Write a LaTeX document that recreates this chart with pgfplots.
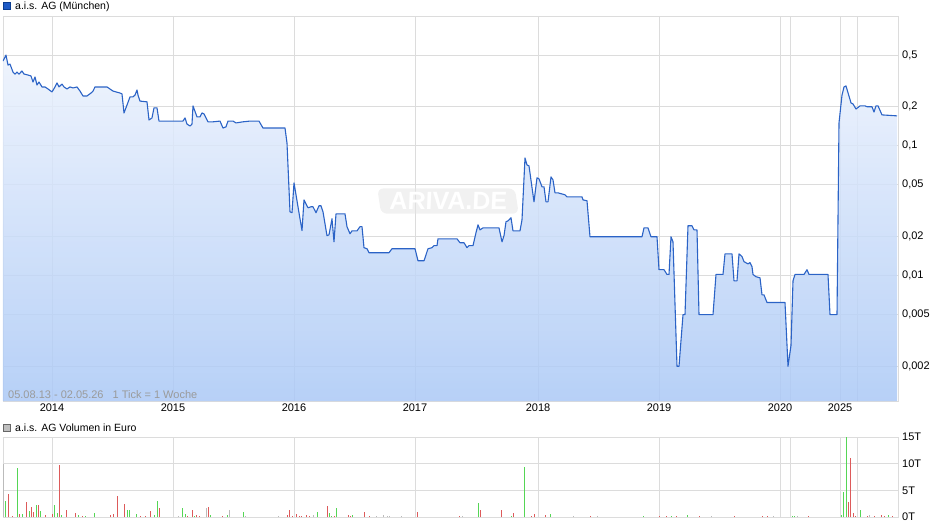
\documentclass[border=0pt]{standalone}
\usepackage{fontspec}
\setmainfont{Liberation Sans}
\usepackage{pgfplots}
\pgfplotsset{compat=1.18}
\usepackage{pgfplotstable}
\definecolor{gridc}{HTML}{DCDCDC}
\definecolor{linec}{HTML}{2B63C6}
\definecolor{filltop}{HTML}{ECF2FC}
\definecolor{fillbot}{HTML}{AAC8F6}
\definecolor{volgreen}{HTML}{55D655}
\definecolor{volred}{HTML}{DD5A5A}
\definecolor{volgrey}{HTML}{BBBBBB}
\definecolor{sqblue}{HTML}{1E5BC6}
\definecolor{sqblueb}{HTML}{0B3D91}
\definecolor{infogrey}{HTML}{9A9A9A}

\pgfplotstableread{
x y
3 0.450
6 0.500
8 0.419
10 0.426
13 0.370
15 0.357
17 0.370
19 0.357
22 0.377
24 0.357
28 0.351
31 0.345
33 0.310
35 0.339
37 0.294
39 0.310
42 0.284
45 0.284
48 0.274
52 0.260
55 0.284
57 0.305
59 0.284
62 0.299
64 0.284
67 0.274
70 0.284
73 0.279
77 0.284
80 0.264
83 0.242
87 0.242
91 0.255
93 0.264
95 0.284
100 0.284
107 0.284
113 0.264
120 0.255
122 0.251
124 0.179
127 0.206
130 0.238
133 0.238
135 0.246
137 0.269
138 0.246
140 0.221
147 0.218
149 0.158
152 0.164
154 0.196
157 0.196
159 0.155
183 0.155
185 0.164
187 0.147
190 0.142
192 0.147
193 0.203
197 0.167
200 0.167
202 0.179
204 0.176
208 0.153
213 0.153
220 0.155
223 0.137
226 0.140
228 0.155
233 0.155
236 0.150
243 0.153
250 0.155
259 0.155
263 0.137
285 0.137
287 0.105
290 0.031
292 0.0305
294 0.0518
302 0.0222
304 0.0383
308 0.0333
311 0.0339
313 0.0339
316 0.0305
319 0.0345
321 0.0345
323 0.0310
327 0.0203
329 0.0206
332 0.0274
334 0.0182
336 0.0299
345 0.0299
347 0.0238
350 0.0210
352 0.0221
357 0.0221
360 0.0238
362 0.0238
364 0.0164
367 0.0161
369 0.0150
389 0.0150
392 0.0161
415 0.0161
418 0.0130
424 0.0130
428 0.0161
432 0.0164
434 0.0170
437 0.0170
438 0.0192
457 0.0192
460 0.0179
464 0.0179
467 0.0164
469 0.0170
473 0.0170
476 0.0214
478 0.0246
480 0.0225
483 0.0233
499 0.0233
502 0.0182
504 0.0203
506 0.0260
508 0.0264
511 0.0279
513 0.0221
520 0.0221
522 0.0269
525 0.0806
527 0.0712
529 0.0700
534 0.0370
537 0.0566
539 0.0556
542 0.0483
544 0.0483
546 0.0370
548 0.0370
551 0.0576
553 0.0546
555 0.0434
558 0.0434
565 0.0419
567 0.0404
582 0.0404
583 0.0383
587 0.0377
590 0.0199
642 0.0199
644 0.0233
648 0.0233
651 0.0199
657 0.0199
659 0.0111
664 0.0111
667 0.0102
669 0.0102
671 0.0199
673 0.0182
677 0.0020
679 0.0020
683 0.0050
685 0.0050
688 0.0242
692 0.0242
694 0.0225
697 0.0225
699 0.0050
713 0.0050
716 0.0102
723 0.0102
725 0.0147
732 0.0147
734 0.0091
737 0.0091
739 0.0147
742 0.0140
744 0.0128
748 0.0123
750 0.0126
752 0.0117
753 0.0102
756 0.0098
760 0.0096
762 0.0071
764 0.0071
767 0.0062
785 0.0062
788 0.0020
791 0.0029
793 0.0091
795 0.0102
804 0.0102
807 0.0111
809 0.0102
828 0.0102
830 0.0050
837 0.0050
839 0.150
842 0.246
844 0.284
846 0.289
851 0.214
853 0.210
856 0.192
860 0.203
865 0.203
867 0.200
872 0.200
874 0.182
876 0.203
878 0.203
882 0.173
897 0.170
}\price

\pgfplotstableread{
x v
5.3 3.0
17.3 9.2
22.3 0.5
29.3 1.1
36.3 2.2
40.3 1.1
54.3 2.2
57.3 0.7
61.3 0.3
78.3 0.3
85.3 0.1
94.3 0.7
127.3 1.4
129.3 1.3
136.3 0.5
154.3 0.3
157.3 3.0
182.3 1.6
185.3 0.5
194.3 0.1
210.3 0.3
227.3 0.3
243.3 0.9
317.3 0.9
329.3 0.7
331.3 0.1
336.3 1.6
352.3 0.3
478.3 2.6
511.3 0.1
524.3 9.3
550.3 0.5
643.3 0.1
671.3 0.1
687.3 0.3
792.3 0.1
794.3 0.1
841.3 0.3
843.3 4.7
846.3 15
860.3 1.3
888.3 0.3
}\volgreen

\pgfplotstableread{
x v
8.3 4.3
12.3 0.1
19.3 0.6
26.3 2.8
31.3 1.8
33.3 0.9
38.3 2.2
45.3 0.3
52.3 0.5
59.3 9.8
66.3 1.4
75.3 0.7
82.3 0.1
110.3 0.3
113.3 0.5
117.3 3.9
124.3 2.4
140.3 0.1
145.3 0.1
150.3 1.1
159.3 1.6
187.3 0.1
192.3 1.3
196.3 0.3
199.3 0.1
208.3 1.8
222.3 0.1
287.3 0.3
289.3 1.3
292.3 0.1
296.3 0.5
299.3 0.1
301.3 0.1
306.3 0.3
309.3 0.1
327.3 2.0
334.3 0.1
348.3 0.3
350.3 0.1
364.3 0.9
369.3 0.1
417.3 0.9
459.3 0.1
480.3 1.3
501.3 1.3
513.3 0.7
531.3 0.1
534.3 0.5
545.3 0.3
590.3 0.1
659.3 0.1
666.3 0.1
676.3 0.1
699.3 0.1
734.3 0.1
762.3 0.1
767.3 0.1
808.3 0.1
848.3 2.8
850.3 11.1
853.3 0.7
855.3 0.1
867.3 0.1
874.3 0.1
881.3 0.3
884.3 0.1
892.3 0.1
}\volred

\pgfplotstableread{
x v
3.8 10
178.3 0.1
206.3 1.6
229.3 1.3
245.3 0.1
278.3 0.1
313.3 0.3
376.3 0.1
383.3 0.3
387.3 0.1
389.3 0.1
401.3 0.1
462.3 0.1
573.3 0.1
597.3 0.1
711.3 0.1
773.3 0.1
797.3 0.1
869.3 0.3
}\volgrey

\pgfplotsset{
  arivabase/.style={
    scale only axis, width=895pt,
    xmin=3, xmax=898,
    axis line style={draw=gridc, line width=0.8pt},
    grid=major,
    major grid style={draw=gridc, line width=0.8pt},
    major tick length=0pt,
    tick style={draw=none},
    yticklabel pos=right,
    ticklabel style={font=\fontsize{11}{13}\selectfont, text=black},
    /pgf/number format/assume math mode=true,
    xtick={52,173,294,415,538,659,780,790,840,857},
    yticklabel style={anchor=west, inner sep=0pt, xshift=4pt},
  }
}

\begin{document}
\begin{tikzpicture}
\useasboundingbox (0pt,0pt) rectangle (940pt,-526pt);

% price panel
\begin{axis}[arivabase,
  height=385pt,
  at={(3pt,-16pt)}, anchor=north west,
  ymode=log, ymin=0.00108, ymax=1.0,
  ytick={0.002,0.005,0.01,0.02,0.05,0.1,0.2,0.5},
  yticklabels={{0,002},{0,005},{0,01},{0,02},{0,05},{0,1},{0,2},{0,5}},
  xticklabels={2014,2015,2016,2017,2018,2019,2020,,2025,},
  xticklabel style={anchor=north, inner sep=0pt, yshift=-3pt},
]
\addplot[draw=none, top color=filltop, bottom color=fillbot, fill opacity=0.85, forget plot]
  table[x=x, y=y] {\price} -- (axis cs:897,0.00108) -- (axis cs:3,0.00108) -- cycle;
\node[fill=black!10, fill opacity=0.55, text opacity=1, text=white, rounded corners=6pt,
      xslant=-0.15,
      font=\bfseries\itshape\fontsize{25}{25}\selectfont, inner xsep=10pt, inner ysep=4pt]
      at (axis cs:448,0.0375) {ARIVA.DE};
\addplot[linec, line width=1.1pt, line join=round] table[x=x, y=y] {\price};
\end{axis}

% volume panel
\begin{axis}[arivabase,
  height=80pt,
  at={(3pt,-437pt)}, anchor=north west,
  ymin=0, ymax=15,
  ytick={0,5,10,15},
  yticklabels={0T,5T,10T,15T},
  xticklabels={,,,,,,,,,},
]
\addplot[ycomb, volgrey, line width=1.3pt] table[x=x, y=v] {\volgrey};
\addplot[ycomb, volgreen, line width=1.3pt] table[x=x, y=v] {\volgreen};
\addplot[ycomb, volred, line width=1.3pt] table[x=x, y=v] {\volred};
\end{axis}

% titles
\draw[draw=sqblueb, fill=sqblue, line width=0.6pt] (3.5pt,-2.8pt) rectangle (10.5pt,-9.8pt);
\node[anchor=base west, inner sep=0pt, font=\fontsize{10.5}{12}\selectfont] at (15pt,-9.6pt) {a.i.s. AG (München)};
\draw[draw=black!60, fill=black!25, line width=0.6pt] (3.5pt,-424.5pt) rectangle (10.5pt,-431.5pt);
\node[anchor=base west, inner sep=0pt, font=\fontsize{10.5}{12}\selectfont] at (15pt,-431.3pt) {a.i.s. AG Volumen in Euro};
\node[anchor=base west, inner sep=0pt, text=infogrey, font=\fontsize{11}{13}\selectfont] at (8pt,-399pt) {05.08.13 - 02.05.26\hspace{9pt}1 Tick = 1 Woche};
\end{tikzpicture}
\end{document}
